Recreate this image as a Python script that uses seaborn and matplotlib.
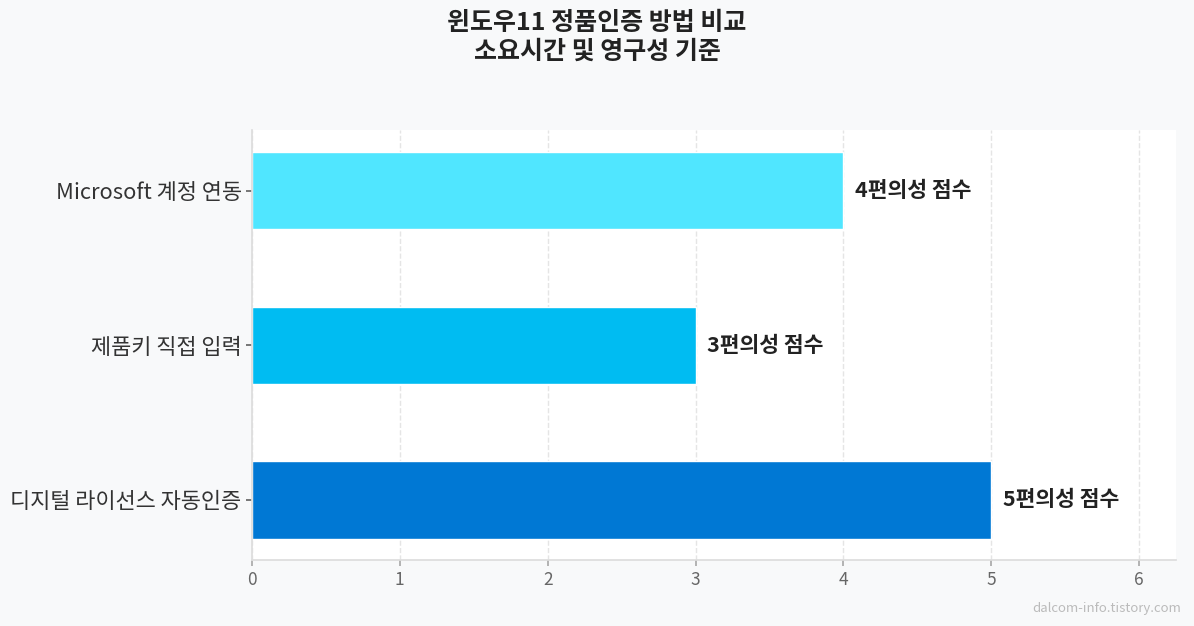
import matplotlib
matplotlib.use("Agg")
import matplotlib.pyplot as plt
import seaborn as sns
import pandas as pd

methods = ["Microsoft 계정 연동", "제품키 직접 입력", "디지털 라이선스 자동인증"]
scores = [4, 3, 5]
colors = ["#50E6FF", "#00BCF2", "#0078D4"]
label_suffix = "편의성 점수"

sns.set_theme(style="white")
plt.rcParams["font.family"] = ["Noto Sans CJK KR", "DejaVu Sans"]

df = pd.DataFrame({"method": methods, "score": scores})

fig = plt.figure(figsize=(11.94, 6.26), dpi=100, facecolor="#F8F9FA")
ax = fig.add_axes([0.211, 0.105, 0.774, 0.687])
ax.set_facecolor("white")

sns.barplot(data=df, x="score", y="method", hue="method", palette=colors,
            width=0.5, legend=False, ax=ax, orient="h", saturation=1)

# value labels next to each bar
for i, v in enumerate(scores):
    ax.text(v + 0.08, i, f"{v}{label_suffix}", va="center", ha="left",
            fontsize=15.5, fontweight="bold", color="#222222")

ax.set_xlim(0, 6.25)
ax.set_ylim(2.39, -0.39)
ax.set_xticks(range(0, 7))
ax.set_xlabel("")
ax.set_ylabel("")
ax.xaxis.grid(True, linestyle="--", color="#E5E5E5", linewidth=1)
ax.set_axisbelow(True)
for s in ["top", "right"]:
    ax.spines[s].set_visible(False)
for s in ["left", "bottom"]:
    ax.spines[s].set_color("#DDDDDD")
ax.tick_params(axis="y", labelsize=15.8, labelcolor="#333333", left=True,
               length=4, color="#666666")
ax.tick_params(axis="x", labelsize=12.5, labelcolor="#666666", bottom=True,
               length=4, color="#AAAAAA")

fig.suptitle("윈도우11 정품인증 방법 비교\n소요시간 및 영구성 기준", fontsize=18,
             fontweight="bold", color="#222222", y=0.982, linespacing=1.25)
fig.text(0.989, 0.018, "dalcom-info.tistory.com", ha="right", va="bottom",
         fontsize=9.5, color="#BBBBBB")

fig.savefig("out.png", dpi=100, facecolor=fig.get_facecolor())
